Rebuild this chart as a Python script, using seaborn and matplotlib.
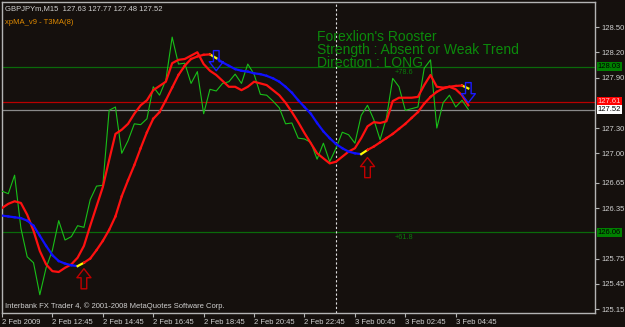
import numpy as np
import pandas as pd
import matplotlib
matplotlib.use("Agg")
import matplotlib.pyplot as plt
import seaborn as sns
from matplotlib.path import Path

# ---------------- data ----------------
time_labels = ["2 Feb 2009", "2 Feb 12:45", "2 Feb 14:45", "2 Feb 16:45", "2 Feb 18:45",
               "2 Feb 20:45", "2 Feb 22:45", "3 Feb 00:45", "3 Feb 02:45", "3 Feb 04:45"]
label_bars = [0, 8, 16, 24, 32, 40, 48, 56, 64, 72]

close = [126.55, 126.52, 126.74, 126.11, 125.77, 125.70, 125.32, 125.64, 125.85, 126.20,
         125.97, 126.01, 126.14, 126.12, 126.45, 126.61, 126.62, 127.51, 127.55, 127.00,
         127.15, 127.35, 127.34, 127.41, 127.79, 127.69, 127.87, 128.38, 128.06, 128.07,
         127.83, 127.97, 127.47, 127.76, 127.74, 127.83, 127.85, 127.94, 127.83, 128.06,
         127.94, 127.70, 127.69, 127.62, 127.54, 127.35, 127.36, 127.18, 127.17, 127.13,
         126.93, 127.12, 126.90, 127.06, 127.25, 127.22, 127.12, 127.45, 127.57, 127.40,
         127.16, 127.42, 127.89, 127.79, 127.51, 127.53, 127.55, 128.01, 128.11, 127.30,
         127.60, 127.69, 127.55, 127.63, 127.52]

xpma_fast = [126.35, 126.40, 126.43, 126.41, 126.27, 126.08, 125.84, 125.68, 125.60, 125.59,
             125.64, 125.68, 125.76, 125.90, 126.14, 126.37, 126.60, 126.92, 127.23, 127.28,
             127.35, 127.47, 127.57, 127.63, 127.75, 127.80, 127.85, 128.07, 128.11, 128.12,
             128.16, 128.20, 128.06, 127.98, 127.93, 127.86, 127.79, 127.79, 127.75, 127.79,
             127.85, 127.83, 127.81, 127.75, 127.69, 127.60, 127.49, 127.37, 127.24, 127.12,
             127.00, 126.94, 126.88, 126.90, 126.96, 127.02, 127.06, 127.18, 127.32, 127.37,
             127.36, 127.38, 127.62, 127.66, 127.66, 127.66, 127.67, 127.81, 127.93, 127.79,
             127.78, 127.79, 127.76, 127.69, 127.57]

t3ma_slow = [126.26, 126.25, 126.24, 126.23, 126.20, 126.14, 126.02, 125.90, 125.79, 125.72,
             125.69, 125.67, 125.66, 125.70, 125.75, 125.85, 125.96, 126.09, 126.25, 126.49,
             126.68, 126.86, 127.06, 127.25, 127.41, 127.49, 127.63, 127.78, 127.93, 128.04,
             128.12, 128.15, 128.17, 128.175, 128.13, 128.08, 128.04, 128.00, 127.98, 127.97,
             127.95, 127.94, 127.92, 127.89, 127.85, 127.79, 127.72, 127.63, 127.55, 127.47,
             127.36, 127.26, 127.18, 127.11, 127.06, 127.02, 127.00, 126.99, 127.04, 127.08,
             127.13, 127.18, 127.23, 127.29, 127.35, 127.42, 127.49, 127.59, 127.67, 127.73,
             127.77, 127.79, 127.80, 127.805, 127.77]

up_signal_bars = [13, 58]
up_signal_prices = [125.51, 126.83]
down_signal_bars = [34, 74]
down_signal_prices = [128.10, 127.72]

price_ticks = [128.50, 128.20, 127.90, 127.30, 127.00, 126.65, 126.35, 125.75, 125.45, 125.15]
fib_levels = [128.03, 126.06]
fib_names = ["+78.6", "+61.8"]
red_level = 127.61
bid_level = 127.52
separator_bar = 53

# ---------------- style ----------------
BG = "#15100d"
FRAME = "#b4b4b4"
TXT = "#d0d0d0"
SMALL = dict(family=["Liberation Sans", "DejaVu Sans"], size=5.5)

fig = plt.figure(figsize=(6.25, 3.27), dpi=100, facecolor=BG)
W, H = 625, 327
ax = fig.add_axes([2 / W, 14 / H, 593 / W, 311 / H])
ax.set_facecolor(BG)

bars = np.arange(len(close))

# horizontal levels
for lv in fib_levels:
    ax.axhline(lv, color="#0a6a0a", lw=0.9, zorder=1)
ax.axhline(red_level, color="#b80000", lw=0.9, zorder=1)
ax.axhline(bid_level, color="#8a8a8a", lw=0.9, zorder=1)
ax.axvline(separator_bar, color="#e0e0e0", lw=0.8, ls=(0, (2, 2)), zorder=1)

# close line
sns.lineplot(x=bars, y=close, ax=ax, color="#18c018", lw=0.8, zorder=3)
# fast MA
sns.lineplot(x=bars, y=xpma_fast, ax=ax, color="#ff1010", lw=1.6, zorder=4)

# slow MA coloured by direction
d = np.sign(np.diff(t3ma_slow))
rows = []
for j in range(len(d)):
    if j > 0 and d[j] != d[j - 1]:
        c = "turn"
    elif d[j] > 0:
        c = "up"
    else:
        c = "down"
    rows.append((j, bars[j], t3ma_slow[j], c))
    rows.append((j, bars[j + 1], t3ma_slow[j + 1], c))
segs = pd.DataFrame(rows, columns=["seg", "bar", "val", "dir"])
sns.lineplot(data=segs, x="bar", y="val", hue="dir", units="seg", estimator=None,
             palette={"up": "#ff1010", "down": "#1010ff", "turn": "#ffff00"},
             lw=1.6, ax=ax, legend=False, zorder=5)

# signal arrows (outline markers)
up_path = Path([(-0.28, -1), (0.28, -1), (0.28, 0.1), (0.7, 0.1), (0, 1), (-0.7, 0.1),
                (-0.28, 0.1), (-0.28, -1)],
               [Path.MOVETO] + [Path.LINETO] * 6 + [Path.CLOSEPOLY])
down_path = Path([(x, -y) for x, y in up_path.vertices], up_path.codes)
sns.scatterplot(x=up_signal_bars, y=up_signal_prices, ax=ax, marker=up_path, s=210,
                facecolors="none", edgecolors="#c00000", linewidths=1.0, zorder=6)
sns.scatterplot(x=down_signal_bars, y=down_signal_prices, ax=ax, marker=down_path, s=210,
                facecolors="none", edgecolors="#1a1aff", linewidths=1.0, zorder=6)

# limits
ax.set_xlim(0, 94.1)
ax.set_ylim(125.103, 128.797)

# frame
for sp in ax.spines.values():
    sp.set_color(FRAME)
    sp.set_linewidth(1)

# axes ticks
ax.yaxis.tick_right()
ax.set_yticks(price_ticks)
ax.set_yticklabels([f"{v:.2f}" for v in price_ticks])
ax.tick_params(axis="y", length=3, width=0.8, color=FRAME, pad=1.5, labelcolor=TXT,
               labelsize=SMALL["size"])
ax.set_xticks(label_bars)
ax.set_xticklabels(time_labels, ha="left")
ax.tick_params(axis="x", length=3, width=0.8, color=FRAME, pad=1, labelcolor=TXT,
               labelsize=SMALL["size"])
for lab in ax.get_xticklabels() + ax.get_yticklabels():
    lab.set_family(SMALL["family"])
ax.set_xlabel("")
ax.set_ylabel("")

# price boxes on the right axis
def price_box(v, bg, fg):
    ax.text(1.005, v, f"{v:.2f}", transform=ax.get_yaxis_transform(), ha="left",
            va="center", color=fg, fontsize=SMALL["size"], family=SMALL["family"],
            bbox=dict(boxstyle="square,pad=0.15", fc=bg, ec="none"), zorder=10,
            clip_on=False)

price_box(fib_levels[0], "#008000", "#000000")
price_box(fib_levels[1], "#008000", "#000000")
price_box(red_level, "#ff0000", "#ffd0d0")
price_box(bid_level, "#ffffff", "#000000")

# fib level names
ax.text(62.3, fib_levels[0] - 0.075, fib_names[0], color="#0a7a0a", fontsize=5.3,
        family=SMALL["family"], va="center", ha="left")
ax.text(62.3, fib_levels[1] - 0.055, fib_names[1], color="#0a7a0a", fontsize=5.3,
        family=SMALL["family"], va="center", ha="left")

# header texts
def ftext(x, y, s, **kw):
    fig.text(x / W, 1 - y / H, s, va="center", ha="left", **kw)

ftext(5, 9, "GBPJPYm,M15  127.63 127.77 127.48 127.52", color=TXT, **SMALL)
ftext(5, 23, "xpMA_v9 - T3MA(8)", color="#e08a00", **SMALL)
ftext(5, 306, "Interbank FX Trader 4, \u00a9 2001-2008 MetaQuotes Software Corp.", color=TXT, **SMALL)

BIG = dict(family=["Liberation Sans", "DejaVu Sans"], size=10.0, color="#0b8a0b")
ftext(317, 37, "Forexlion's Rooster", **BIG)
ftext(317, 50, "Strength : Absent or Weak Trend", **BIG)
ftext(317, 63, "Direction : LONG", **BIG)

fig.savefig("out.png", dpi=100, facecolor=BG)
